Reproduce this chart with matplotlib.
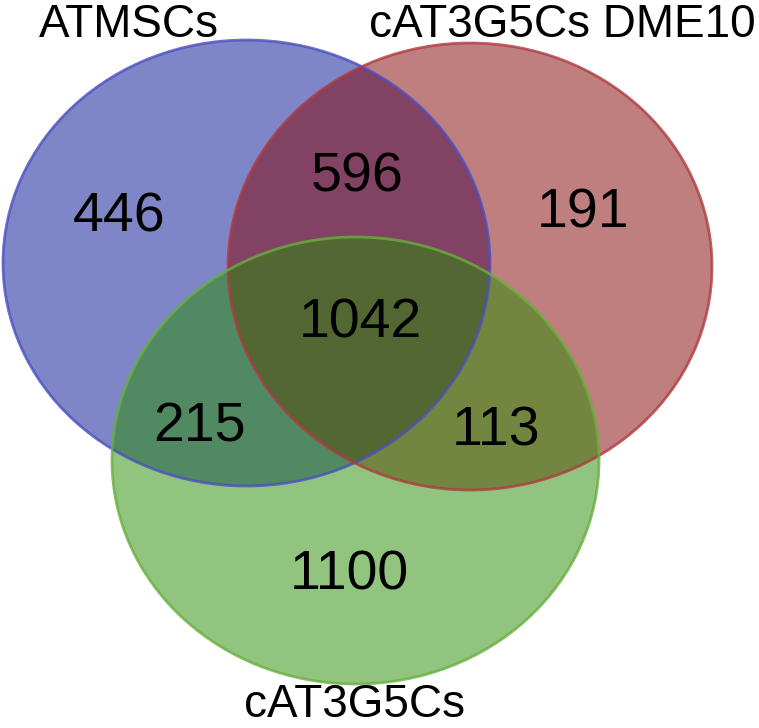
import matplotlib
matplotlib.use("Agg")
import matplotlib.pyplot as plt
from matplotlib.patches import Ellipse

# Data: set names and region counts
set_names = ["ATMSCs", "cAT3G5Cs DME10", "cAT3G5Cs"]
regions = ["A only", "A&B", "B only", "A&B&C", "A&C", "B&C", "C only"]
counts = [446, 596, 191, 1042, 215, 113, 1100]

# Layout (pixel coordinates of the 759x728 canvas, text at baseline)
ellipse_centers = [(246.5, 263), (470, 266.5), (355.5, 460.5)]
ellipse_sizes = [(487, 446), (484, 447), (487, 447)]
fill_colors = ["#010f91", "#830000", "#258d00"]
edge_colors = ["#4b4fc0", "#b03a40", "#6aaf3e"]
label_pos = [(129, 37), (562, 37), (355, 717)]
count_pos = [(119, 232), (357, 191), (583, 228), (360, 338),
             (200, 442), (496, 446), (349, 590)]

plt.rcParams['font.family'] = ['Liberation Sans', 'DejaVu Sans']

fig = plt.figure(figsize=(7.59, 7.28), dpi=100)
ax = fig.add_axes([0, 0, 1, 1])
ax.set_xlim(0, 759)
ax.set_ylim(728, 0)
ax.axis('off')

# filled circles, blended with alpha
for c, (w, h), col in zip(ellipse_centers, ellipse_sizes, fill_colors):
    ax.add_patch(Ellipse(c, w, h, facecolor=col, edgecolor='none', alpha=0.5))

# outlines
for c, (w, h), col in zip(ellipse_centers, ellipse_sizes, edge_colors):
    ax.add_patch(Ellipse(c, w, h, facecolor='none', edgecolor=col, lw=2, alpha=0.8))

for name, (x, y) in zip(set_names, label_pos):
    ax.text(x, y, name, fontsize=33, ha='center', va='baseline', color='black')

for n, (x, y) in zip(counts, count_pos):
    ax.text(x, y, str(n), fontsize=40, ha='center', va='baseline', color='black')

fig.savefig('out.png', dpi=100)
